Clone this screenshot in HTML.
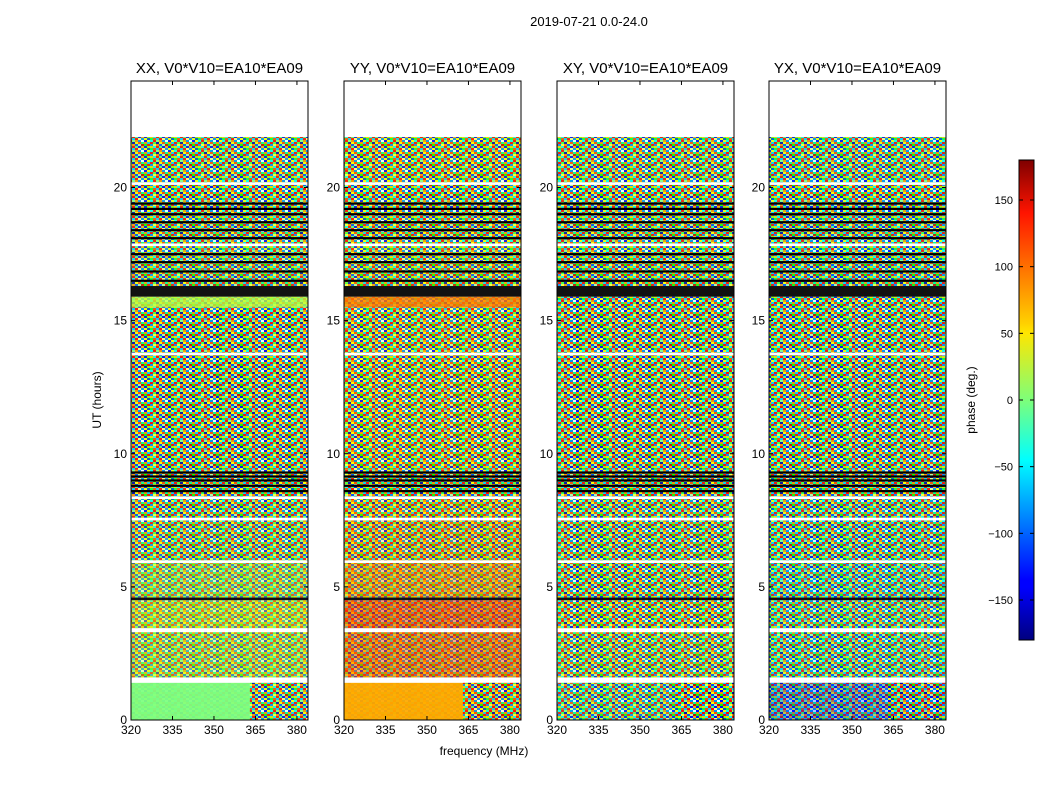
<!DOCTYPE html>
<html><head><meta charset="utf-8">
<style>
html,body{margin:0;padding:0;background:#fff;}
svg text{font-family:"Liberation Sans","DejaVu Sans",sans-serif;}
</style></head>
<body>
<svg id="chart" width="1050" height="800" xmlns="http://www.w3.org/2000/svg">
<defs>
<pattern id="noise" width="24" height="10" patternUnits="userSpaceOnUse">
<rect x="0" y="0" width="3" height="2" fill="#00f"/><rect x="3" y="0" width="3" height="2" fill="#ff0"/><rect x="6" y="0" width="3" height="2" fill="#0ff"/><rect x="9" y="0" width="3" height="2" fill="#f00"/><rect x="12" y="0" width="3" height="2" fill="#8f8"/><rect x="15" y="0" width="3" height="2" fill="#f80"/><rect x="18" y="0" width="3" height="2" fill="#08f"/><rect x="21" y="0" width="3" height="2" fill="#fff"/>
<rect x="0" y="2" width="3" height="2" fill="#f80"/><rect x="3" y="2" width="3" height="2" fill="#0cf"/><rect x="6" y="2" width="3" height="2" fill="#f00"/><rect x="9" y="2" width="3" height="2" fill="#4f4"/><rect x="12" y="2" width="3" height="2" fill="#00a"/><rect x="15" y="2" width="3" height="2" fill="#ff0"/><rect x="18" y="2" width="3" height="2" fill="#f40"/><rect x="21" y="2" width="3" height="2" fill="#0f8"/>
<rect x="0" y="4" width="3" height="2" fill="#0f0"/><rect x="3" y="4" width="3" height="2" fill="#f00"/><rect x="6" y="4" width="3" height="2" fill="#08f"/><rect x="9" y="4" width="3" height="2" fill="#ff4"/><rect x="12" y="4" width="3" height="2" fill="#f80"/><rect x="15" y="4" width="3" height="2" fill="#04f"/><rect x="18" y="4" width="3" height="2" fill="#afa"/><rect x="21" y="4" width="3" height="2" fill="#c00"/>
<rect x="0" y="6" width="3" height="2" fill="#00f"/><rect x="3" y="6" width="3" height="2" fill="#8f0"/><rect x="6" y="6" width="3" height="2" fill="#fc0"/><rect x="9" y="6" width="3" height="2" fill="#0ff"/><rect x="12" y="6" width="3" height="2" fill="#f00"/><rect x="15" y="6" width="3" height="2" fill="#4f8"/><rect x="18" y="6" width="3" height="2" fill="#00f"/><rect x="21" y="6" width="3" height="2" fill="#fa0"/>
<rect x="0" y="8" width="3" height="2" fill="#ff0"/><rect x="3" y="8" width="3" height="2" fill="#04c"/><rect x="6" y="8" width="3" height="2" fill="#0f4"/><rect x="9" y="8" width="3" height="2" fill="#f40"/><rect x="12" y="8" width="3" height="2" fill="#0cf"/><rect x="15" y="8" width="3" height="2" fill="#f00"/><rect x="18" y="8" width="3" height="2" fill="#ff8"/><rect x="21" y="8" width="3" height="2" fill="#08f"/>
</pattern>
<linearGradient id="jetgrad" x1="0" y1="1" x2="0" y2="0">
<stop offset="0" stop-color="#00007f"/><stop offset="0.11" stop-color="#0000ff"/><stop offset="0.125" stop-color="#0000ff"/><stop offset="0.34" stop-color="#00dbff"/><stop offset="0.375" stop-color="#00ffff"/><stop offset="0.5" stop-color="#7dff7a"/><stop offset="0.64" stop-color="#ffe600"/><stop offset="0.66" stop-color="#ffd000"/><stop offset="0.89" stop-color="#ff1400"/><stop offset="1" stop-color="#7f0000"/>
</linearGradient>
</defs>
<text x="589" y="26" font-size="13" text-anchor="middle">2019-07-21 0.0-24.0</text>
<text x="101" y="400" font-size="12" text-anchor="middle" transform="rotate(-90 101 400)">UT (hours)</text>
<text x="484" y="755" font-size="12" text-anchor="middle">frequency (MHz)</text>
<g id="panels"></g>
<g id="cbar">
<rect x="1019" y="160" width="15" height="480" fill="url(#jetgrad)" stroke="#000" stroke-width="1"/>
<text x="975" y="400" font-size="12" text-anchor="middle" transform="rotate(-90 975 400)">phase (deg.)</text>
</g>
</svg>
<script>
// ---- data ----
const panelTitles = ["XX, V0*V10=EA10*EA09","YY, V0*V10=EA10*EA09","XY, V0*V10=EA10*EA09","YX, V0*V10=EA10*EA09"];
const xTicks = [320,335,350,365,380];
const yTicks = [0,5,10,15,20];
const cbTicks = [-150,-100,-50,0,50,100,150];
const bandStart = [0.0,1.4,1.6,3.3,3.45,4.5,4.6,5.9,6.0,7.5,7.6,8.3,8.4,9.0,9.4,13.7,13.8,15.5,15.9,16.3,17.8,17.9,19.5,20.1,20.2,21.9];
const bandEnd   = [1.4,1.6,3.3,3.45,4.5,4.6,5.9,6.0,7.5,7.6,8.3,8.4,9.0,9.4,13.7,13.8,15.5,15.9,16.3,17.8,17.9,19.5,20.1,20.2,21.9,24.0];
const bandKind  = ["d","g","d","g","d","k","d","g","d","g","d","g","d","d","d","g","d","d","k","d","g","d","d","g","d","g"];
const phaseXX = [0,0,20,0,30,0,15,0,10,0,0,0,0,0,0,0,0,20,0,0,0,0,0,0,0,0];
const phaseYY = [75,0,100,0,110,0,80,0,70,0,60,0,0,0,40,0,30,90,0,20,0,20,0,0,30,0];
const phaseXY = [-20,0,10,0,20,0,0,0,0,0,0,0,0,0,0,0,0,0,0,0,0,0,0,0,0,0];
const phaseYX = [-110,0,-30,0,-20,0,-40,0,-30,0,-20,0,0,0,-10,0,-20,-10,0,-30,0,-20,0,0,-20,0];
const noiseXX = [0.05,0,0.6,0,0.55,0,0.6,0,0.8,0,0.85,0,0.9,0.9,0.9,0,0.9,0.2,0,0.8,0,0.85,0.9,0,0.85,0];
const noiseYY = [0.05,0,0.5,0,0.45,0,0.55,0,0.75,0,0.8,0,0.9,0.9,0.85,0,0.85,0.2,0,0.8,0,0.85,0.9,0,0.85,0];
const noiseXY = [0.8,0,0.8,0,0.85,0,0.85,0,0.85,0,0.85,0,0.9,0.9,0.9,0,0.9,0.9,0,0.85,0,0.85,0.9,0,0.85,0];
const noiseYX = [0.7,0,0.8,0,0.8,0,0.8,0,0.85,0,0.85,0,0.9,0.9,0.9,0,0.9,0.9,0,0.85,0,0.85,0.9,0,0.85,0];
const phases = [phaseXX,phaseYY,phaseXY,phaseYX];
const noises = [noiseXX,noiseYY,noiseXY,noiseYX];
// bottom band: noisy above this frequency (MHz) per panel, texture opacity there
const bottomSplitFreq = [363,363,363,363];
const bottomSplitNoise = [0.85,0.85,0.8,0.7];
// dark flag stripes (hours)
const stripeHours = [8.6,8.8,9.0,9.15,9.3,16.5,16.85,17.2,17.5,18.1,18.4,18.7,19.0,19.2,19.4];

// ---- layout ----
const panelLeft = [131,344,557,769];
const panelW = 177, plotTop = 81, plotBottom = 720;
const xMin = 320, xMax = 384, yMin = 0, yMax = 24;
function yScale(h){ return plotBottom - (h - yMin)/(yMax - yMin)*(plotBottom - plotTop); }
function xScale(p,f){ return panelLeft[p] + (f - xMin)/(xMax - xMin)*panelW; }
function jet(v){
  const t = (v+180)/360;
  const c = x => Math.round(255*Math.max(0,Math.min(1,x)));
  return `rgb(${c(1.5-Math.abs(4*t-3))},${c(1.5-Math.abs(4*t-2))},${c(1.5-Math.abs(4*t-1))})`;
}
const NS = "http://www.w3.org/2000/svg";
function mk(tag, attrs, parent){
  const e = document.createElementNS(NS, tag);
  for (const k in attrs) e.setAttribute(k, attrs[k]);
  parent.appendChild(e); return e;
}
const root = document.getElementById("panels");
for (let p = 0; p < 4; p++){
  const g = mk("g", {}, root);
  
  
  const L = panelLeft[p];
  for (let b = 0; b < bandStart.length; b++){
    const y1 = yScale(bandEnd[b]), y2 = yScale(bandStart[b]);
    const h = y2 - y1;
    let fill;
    if (bandKind[b] === "g") fill = "#fff";
    else if (bandKind[b] === "k") fill = "#111";
    else fill = jet(phases[p][b]);
    const r = mk("rect", {x:L, y:y1, width:panelW, height:h, fill:fill}, g);
    
    
    if (bandKind[b] === "d" && noises[p][b] > 0){
      const n = mk("rect", {x:L, y:y1, width:panelW, height:h, fill:"url(#noise)", opacity:noises[p][b]}, g);
      
      
    }
    if (b === 0){
      const sx = xScale(p, bottomSplitFreq[p]);
      const n2 = mk("rect", {x:sx, y:y1, width:L+panelW-sx, height:h, fill:"url(#noise)", opacity:bottomSplitNoise[p]}, g);
      
      
    }
  }
  for (const s of stripeHours){
    const k = mk("rect", {x:L, y:yScale(s)-1, width:panelW, height:2.2, fill:"#000"}, g);
    
    
  }
  const fr = mk("rect", {x:L, y:plotTop, width:panelW, height:plotBottom-plotTop, fill:"none", stroke:"#000", "stroke-width":1}, g);
  
  
  const t = mk("text", {x:L+panelW/2, y:73, "font-size":15, "text-anchor":"middle"}, g);
  t.textContent = panelTitles[p];
  
  
  for (const v of xTicks){
    const x = xScale(p, v);
    mk("line", {x1:x, x2:x, y1:plotBottom, y2:plotBottom-4, stroke:"#000"}, g);
    mk("line", {x1:x, x2:x, y1:plotTop, y2:plotTop+4, stroke:"#000"}, g);
    const tl = mk("text", {x:x, y:plotBottom+14, "font-size":12, "text-anchor":"middle"}, g);
    tl.textContent = v;
    
    
  }
  for (const v of yTicks){
    const y = yScale(v);
    mk("line", {x1:L, x2:L+4, y1:y, y2:y, stroke:"#000"}, g);
    mk("line", {x1:L+panelW, x2:L+panelW-4, y1:y, y2:y, stroke:"#000"}, g);
    const tl = mk("text", {x:L-4, y:y+4, "font-size":12, "text-anchor":"end"}, g);
    tl.textContent = v;
    
    
  }
}
const cb = document.getElementById("cbar");
for (const v of cbTicks){
  const y = 640 - (v+180)/360*480;
  mk("line", {x1:1019, x2:1023, y1:y, y2:y, stroke:"#000"}, cb);
  mk("line", {x1:1034, x2:1030, y1:y, y2:y, stroke:"#000"}, cb);
  const tl = mk("text", {x:1013, y:y+4, "font-size":11, "text-anchor":"end"}, cb);
  tl.textContent = v < 0 ? "\u2212" + Math.abs(v) : v;
  
  
}
</script>
</body></html>
